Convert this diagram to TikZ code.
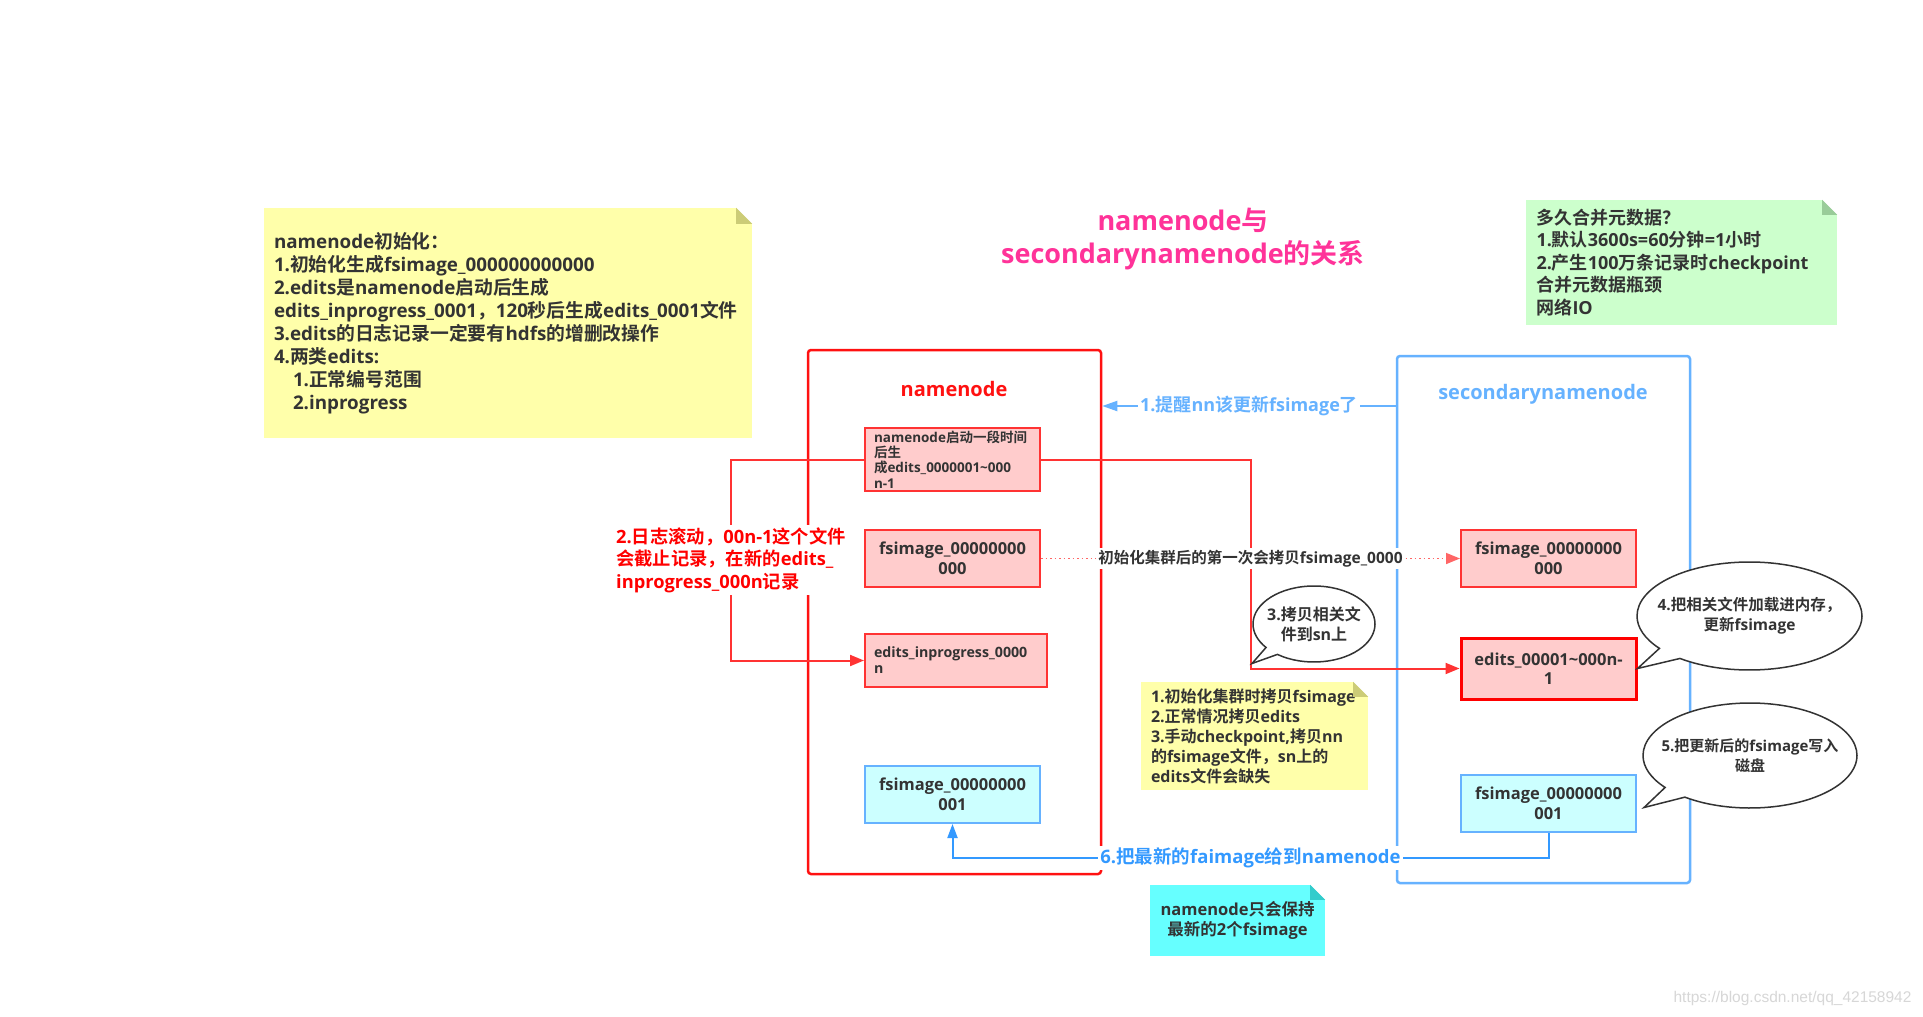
\documentclass[tikz,border=0pt]{standalone}
\usepackage{fontspec}
\setmainfont{Open Sans}
\newfontfamily\cjkfam{Noto Sans CJK SC}[BoldFont={Noto Sans CJK SC Bold}]
\newfontfamily\wmfam{Liberation Sans}
\XeTeXinterchartokenstate=1
\newXeTeXintercharclass\cjkclass
\count255="3000
\loop\ifnum\count255<"A000
  \XeTeXcharclass\count255=\cjkclass
  \advance\count255 by 1
\repeat
\count255="FF00
\loop\ifnum\count255<"FFF0
  \XeTeXcharclass\count255=\cjkclass
  \advance\count255 by 1
\repeat
\XeTeXinterchartoks 0 \cjkclass={\cjkfam}
\XeTeXinterchartoks 4095 \cjkclass={\cjkfam}
\XeTeXinterchartoks \cjkclass 0={\rmfamily}
\XeTeXinterchartoks \cjkclass 4095={\rmfamily}
\usepackage{tikz}
\usetikzlibrary{shapes.callouts,calc,arrows.meta}
\definecolor{txt}{RGB}{51,51,51}
\definecolor{titlepink}{RGB}{255,51,153}
\definecolor{nnred}{RGB}{255,17,17}
\definecolor{filered}{RGB}{255,51,51}
\definecolor{filepink}{RGB}{255,204,204}
\definecolor{filecyan}{RGB}{204,255,255}
\definecolor{snblue}{RGB}{102,178,255}
\definecolor{backblue}{RGB}{51,153,255}
\definecolor{dotred}{RGB}{255,102,102}
\definecolor{noteyellow}{RGB}{255,255,170}
\definecolor{foldyellow}{RGB}{204,204,119}
\definecolor{notegreen}{RGB}{204,255,204}
\definecolor{foldgreen}{RGB}{153,204,153}
\definecolor{notecyan}{RGB}{102,255,255}
\definecolor{foldcyan}{RGB}{51,204,204}
\definecolor{wmgray}{RGB}{215,215,215}

\begin{document}
\begin{tikzpicture}[x=1pt,y=-1pt,
  note/.style={rectangle,inner sep=0pt,text=txt},
  nnfile/.style={draw=filered,fill=filepink,line width=2pt,inner sep=0pt,minimum width=175,minimum height=57,align=center,text=txt,font=\bfseries\fontsize{16.5}{19.5}\selectfont},
  newfile/.style={nnfile,draw=snblue,fill=filecyan},
  bubble/.style={ellipse callout,draw=txt,fill=white,line width=1.5pt,inner xsep=-30pt,inner ysep=0pt,align=center,text=txt,font=\bfseries\fontsize{15.5}{20}\selectfont},
  flow/.style={draw=filered,line width=2pt,-{Triangle[length=14pt,width=11pt]}},
  onpath/.style={fill=white,inner sep=2pt}]
\fill[white] (0,0) rectangle (1923,1017);
\useasboundingbox (0,0) rectangle (1923,1017);

\node[note,fill=noteyellow,minimum width=488,minimum height=230,text width=468,align=left,font=\bfseries\fontsize{18.8}{23}\selectfont] (init) at (508,323) {namenode初始化：\\1.初始化生成fsimage\_000000000000\\2.edits是namenode启动后生成\\edits\_inprogress\_0001，120秒后生成edits\_0001文件\\3.edits的日志记录一定要有hdfs的增删改操作\\4.两类edits:\\\hspace*{19pt}1.正常编号范围\\\hspace*{19pt}2.inprogress};
\fill[white] ($(init.north east)+(-16,0)$) -- (init.north east) -- ($(init.north east)+(0,16)$) -- cycle;
\fill[foldyellow] ($(init.north east)+(-16,0)$) -- ($(init.north east)+(0,16)$) -- ($(init.north east)+(-16,16)$) -- cycle;

\node[note,fill=notegreen,minimum width=311,minimum height=125,text width=290,align=left,font=\bfseries\fontsize{18}{22.5}\selectfont] (merge) at (1681.5,262.5) {多久合并元数据？\\1.默认3600s=60分钟=1小时\\2.产生100万条记录时checkpoint\\合并元数据瓶颈\\网络IO};
\fill[white] ($(merge.north east)+(-15,0)$) -- (merge.north east) -- ($(merge.north east)+(0,15)$) -- cycle;
\fill[foldgreen] ($(merge.north east)+(-15,0)$) -- ($(merge.north east)+(0,15)$) -- ($(merge.north east)+(-15,15)$) -- cycle;

\node[text=titlepink,align=center,font=\bfseries\fontsize{27}{33}\selectfont] (title) at (1183,238.5) {namenode与\\secondarynamenode的关系};

\node[draw=nnred,line width=2.5pt,rounded corners=3pt,minimum width=293,minimum height=524] (nn) at (954.5,612) {};
\node[draw=snblue,line width=2.5pt,rounded corners=3pt,minimum width=293,minimum height=527] (sn) at (1543.5,619.5) {};
\node[text=nnred,font=\bfseries\fontsize{20}{24}\selectfont] (nnname) at (954,389) {namenode};
\node[text=snblue,font=\bfseries\fontsize{20}{24}\selectfont] (snname) at (1543,394) {secondarynamenode};

\node[nnfile,minimum height=63,text width=157,align=left,font=\bfseries\fontsize{13.5}{15.3}\selectfont] (roll) at (952.5,459.5) {namenode启动一段时间\\后生\\成edits\_0000001\textasciitilde000\\n-1};
\node[nnfile] (fsold) at (952.5,558.5) {fsimage\_00000000\\000};
\node[nnfile,minimum width=182,minimum height=53,text width=164,align=left,font=\bfseries\fontsize{14.2}{16}\selectfont] (inprog) at (956,660.5) {edits\_inprogress\_0000\\n};
\node[newfile] (fsnew) at (952.5,794.5) {fsimage\_00000000\\001};

\node[nnfile] (snfs) at (1548.5,558.5) {fsimage\_00000000\\000};
\node[nnfile,draw=red,line width=3pt,minimum height=61] (snedits) at (1548.5,668.5) {edits\_00001\textasciitilde000n-\\1};
\node[newfile] (snnew) at (1548.5,803.5) {fsimage\_00000000\\001};

\draw[snblue,line width=2pt,-{Triangle[length=15pt,width=10pt]}] (sn.west |- 0,406) -- node[onpath,text=snblue,font=\bfseries\fontsize{18}{22}\selectfont] (remind) {1.提醒nn该更新fsimage了} (nn.east |- 0,406);

\draw[flow] (roll.west) -- ++(-133,0) |- node[pos=0.25,onpath,text=red,align=left,font=\bfseries\fontsize{18.3}{22.5}\selectfont] (rolltext) {2.日志滚动，00n-1这个文件\\会截止记录，在新的edits\_\\inprogress\_000n记录} (inprog.west);
\draw[flow] (roll.east) -- ++(210,0) |- coordinate[pos=0.5] (turn) (snedits.west);

\draw[dotred,line width=1.5pt,dash pattern=on 1.5pt off 3pt,-{Triangle[length=14pt,width=11pt]}] (fsold.east) -- node[onpath,text=txt,font=\bfseries\fontsize{15.5}{19}\selectfont] (firstcopy) {初始化集群后的第一次会拷贝fsimage\_0000} (snfs.west);

\node[bubble,minimum width=122,minimum height=76,font=\bfseries\fontsize{16}{20}\selectfont,callout absolute pointer={($(turn)+(1,-5)$)}] (tellcopy) at (1314,624) {3.拷贝相关文\\件到sn上};
\node[bubble,minimum width=225,minimum height=108,callout absolute pointer={(snedits.east)}] (tellload) at (1749.5,616) {4.把相关文件加载进内存，\\更新fsimage};
\node[bubble,minimum width=214,minimum height=105,font=\bfseries\fontsize{15}{20}\selectfont,callout absolute pointer={($(snnew.east)+(7,4)$)}] (tellsave) at (1750,755.5) {5.把更新后的fsimage写入\\磁盘};

\node[note,fill=noteyellow,minimum width=227,minimum height=108,text width=207,align=left,font=\bfseries\fontsize{16}{20}\selectfont] (copy) at (1254.5,736) {1.初始化集群时拷贝fsimage\\2.正常情况拷贝edits\\3.手动checkpoint,拷贝nn\\的fsimage文件，sn上的\\edits文件会缺失};
\fill[white] ($(copy.north east)+(-15,0)$) -- (copy.north east) -- ($(copy.north east)+(0,15)$) -- cycle;
\fill[foldyellow] ($(copy.north east)+(-15,0)$) -- ($(copy.north east)+(0,15)$) -- ($(copy.north east)+(-15,15)$) -- cycle;

\draw[backblue,line width=2pt,-{Triangle[length=14pt,width=10pt]}] (snnew.south) -- ++(0,25) -| node[pos=0.25,onpath,text=backblue,font=\bfseries\fontsize{18.5}{22}\selectfont] (giveback) {6.把最新的faimage给到namenode} (fsnew.south);

\node[note,fill=notecyan,minimum width=175,minimum height=71,align=center,font=\bfseries\fontsize{16.5}{20}\selectfont] (keep) at (1237.5,920.5) {namenode只会保持\\最新的2个fsimage};
\fill[white] ($(keep.north east)+(-15,0)$) -- (keep.north east) -- ($(keep.north east)+(0,15)$) -- cycle;
\fill[foldcyan] ($(keep.north east)+(-15,0)$) -- ($(keep.north east)+(0,15)$) -- ($(keep.north east)+(-15,15)$) -- cycle;

\node[anchor=east,text=wmgray,font=\wmfam\fontsize{15.5}{18}\selectfont] (wm) at (1915,998) {https://blog.csdn.net/qq\_42158942};
\end{tikzpicture}
\end{document}
